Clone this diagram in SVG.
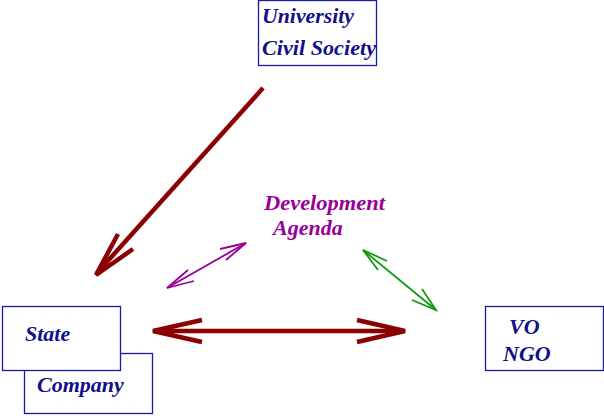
<svg xmlns="http://www.w3.org/2000/svg" width="604" height="416" viewBox="0 0 604 416">
<style>
.box{fill:#fff;stroke:#1a1aa0;stroke-width:1.3}
.lbl{font-family:"Liberation Serif",serif;font-weight:bold;font-style:italic;font-size:22px;fill:#10108a}
.pur{fill:#990099}
.red{stroke:#8b0000;stroke-width:4.5;fill:none;stroke-linecap:butt;stroke-linejoin:miter}
.pl{stroke:#990099;stroke-width:1.8;fill:none}
.gl{stroke:#119911;stroke-width:1.8;fill:none}
</style>
<rect width="604" height="416" fill="#fff"/>
<g id="connectors">
<path class="red" d="M263,88 L97,273"/>
<path class="red" d="M118,234 L96,275 L133,249"/>
<path class="red" d="M154,331 L403,331"/>
<path class="red" d="M202,320 L153,331 L202,342"/>
<path class="red" d="M357,320 L405,331 L357,342"/>
<path class="pl" d="M167,288 L246,243"/>
<path class="pl" d="M188,270 L167,288 L194,281"/>
<path class="pl" d="M220,249 L246,243 L226,260"/>
<path class="gl" d="M363,250 L436,310"/>
<path class="gl" d="M387,261 L363,250 L378,270"/>
<path class="gl" d="M412,300 L436,310 L422,289"/>
</g>
<g id="university">
<rect class="box" x="258.5" y="0.5" width="118" height="65"/>
<text class="lbl" x="262" y="23" textLength="92" lengthAdjust="spacingAndGlyphs">University</text>
<text class="lbl" x="262" y="55" textLength="114" lengthAdjust="spacingAndGlyphs">Civil Society</text>
</g>
<g id="agenda">
<text class="lbl pur" x="264" y="210" textLength="121" lengthAdjust="spacingAndGlyphs">Development</text>
<text class="lbl pur" x="273" y="235">Agenda</text>
</g>
<g id="company">
<rect class="box" x="24.5" y="353.5" width="128" height="60"/>
<text class="lbl" x="37" y="392">Company</text>
</g>
<g id="state">
<rect class="box" x="2.5" y="306.5" width="118" height="64"/>
<text class="lbl" x="25" y="341">State</text>
</g>
<g id="vongo">
<rect class="box" x="485.5" y="306.5" width="118" height="64"/>
<text class="lbl" x="509" y="334">VO</text>
<text class="lbl" x="503" y="361">NGO</text>
</g>
</svg>
